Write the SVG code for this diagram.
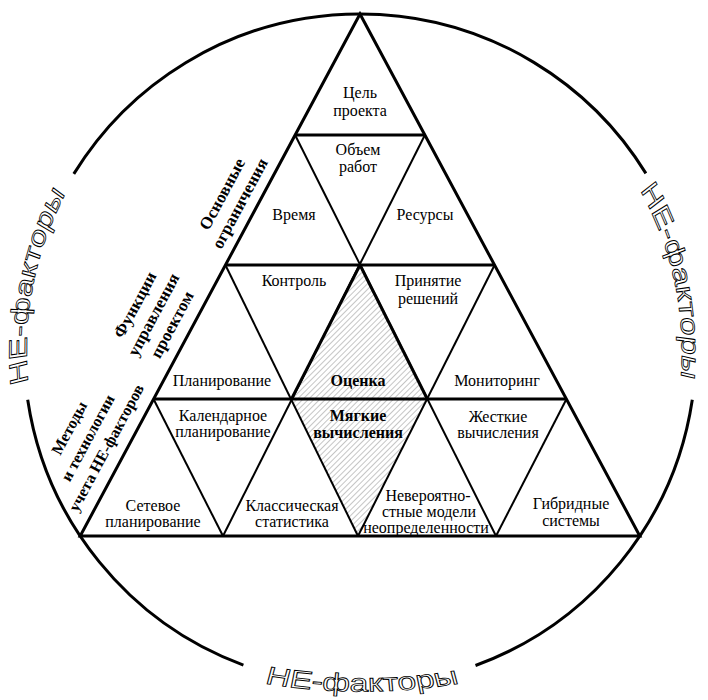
<svg xmlns="http://www.w3.org/2000/svg" width="708" height="700" viewBox="0 0 708 700">
<defs>
<pattern id="hatch" width="4" height="4" patternUnits="userSpaceOnUse" patternTransform="rotate(45)">
<line x1="0" y1="0" x2="0" y2="4" stroke="#8c8c8c" stroke-width="1"/>
</pattern>
<path id="pl" d="M-72.9 0 Q0 -29.7 72.9 0"/>
<path id="pr" d="M-72 0 Q0 -29.4 72 0"/>
<path id="pb" d="M-74 0 Q0 17 74 0"/>
</defs>
<style>
.t{font-family:"Liberation Serif","Times New Roman",serif;font-size:16px;text-anchor:middle;fill:#000}
.b{font-weight:bold}
.s{font-size:17px}
.ne{font-family:"Liberation Sans",Arial,sans-serif;font-size:25px;fill:#fff;stroke:#000;stroke-width:0.8;text-anchor:middle}
.thick{stroke:#000;stroke-width:3;fill:none;stroke-linejoin:miter}
.thin{stroke:#000;stroke-width:2;fill:none}
</style>
<rect width="708" height="700" fill="#fff"/>

<g id="circle">
<path class="thick" d="M73.8 173.9 A336 336 0 0 1 645.9 173.4"/>
<path class="thick" d="M692.3 399.7 A336 336 0 0 1 475.5 665.5"/>
<path class="thick" d="M243.4 665.1 A336 336 0 0 1 27.7 399.7"/>
</g>

<g id="hatched">
<polygon points="360,265 291.5,399 358,536 427.3,399" fill="url(#hatch)"/>
</g>

<g id="connectors">
<polygon class="thick" points="360,14 80.2,536 639.8,536"/>
<line class="thick" x1="295.1" y1="135" x2="424.9" y2="135"/>
<line class="thick" x1="225.4" y1="265" x2="494.6" y2="265"/>
<line class="thick" x1="153.5" y1="399" x2="566.5" y2="399"/>
<line class="thin" x1="424.9" y1="135" x2="223" y2="536"/>
<line class="thin" x1="494.6" y1="265" x2="358" y2="536"/>
<line class="thin" x1="566.5" y1="399" x2="496" y2="536"/>
<line class="thin" x1="295.1" y1="135" x2="496" y2="536"/>
<line class="thin" x1="225.4" y1="265" x2="358" y2="536"/>
<line class="thin" x1="153.5" y1="399" x2="223" y2="536"/>
<line class="thick" x1="360" y1="265" x2="291.5" y2="399"/>
<line class="thick" x1="360" y1="265" x2="427.3" y2="399"/>
</g>

<g id="n-goal"><text class="t" x="360" y="98">Цель</text><text class="t" x="360" y="116">проекта</text></g>
<g id="n-volume"><text class="t" x="358" y="155">Объем</text><text class="t" x="358" y="172">работ</text></g>
<g id="n-time"><text class="t" x="294" y="220">Время</text></g>
<g id="n-resources"><text class="t" x="425" y="220">Ресурсы</text></g>
<g id="n-control"><text class="t" x="294" y="286">Контроль</text></g>
<g id="n-decision"><text class="t" x="428" y="286">Принятие</text><text class="t" x="428" y="304">решений</text></g>
<g id="n-planning"><text class="t" x="222" y="386">Планирование</text></g>
<g id="n-estimate"><text class="t b" x="358" y="386">Оценка</text></g>
<g id="n-monitoring"><text class="t" x="497" y="386">Мониторинг</text></g>
<g id="n-calendar"><text class="t" x="223" y="421">Календарное</text><text class="t" x="223" y="437">планирование</text></g>
<g id="n-soft"><text class="t b" x="358" y="421">Мягкие</text><text class="t b" x="358" y="438">вычисления</text></g>
<g id="n-hard"><text class="t" x="498" y="422">Жесткие</text><text class="t" x="498" y="438">вычисления</text></g>
<g id="n-network"><text class="t" x="153" y="511">Сетевое</text><text class="t" x="153" y="527">планирование</text></g>
<g id="n-classic"><text class="t" x="292" y="511">Классическая</text><text class="t" x="292" y="527">статистика</text></g>
<g id="n-nonprob"><text class="t" x="428" y="501">Невероятно-</text><text class="t" x="429" y="517">стные модели</text><text class="t" x="426" y="533">неопределенности</text></g>
<g id="n-hybrid"><text class="t" x="571" y="509">Гибридные</text><text class="t" x="571" y="526">системы</text></g>

<g id="l-constraints" transform="translate(231.5,199) rotate(-61.8)">
<text class="t b s" x="0" y="-5">Основные</text><text class="t b s" x="0" y="15">ограничения</text>
</g>
<g id="l-functions" transform="translate(154,315) rotate(-61.8)">
<text class="t b s" x="0" y="-16">Функции</text><text class="t b s" x="0" y="5">управления</text><text class="t b s" x="0" y="26">проектом</text>
</g>
<g id="l-methods" transform="translate(88,438) rotate(-61.8)">
<text class="t b" x="0" y="-16">Методы</text><text class="t b" x="0" y="5">и технологии</text><text class="t b" x="0" y="26">учета НЕ-факторов</text>
</g>

<g id="ne-left" transform="translate(47.5,288.3) rotate(-78.84) scale(1.35,1)"><text class="ne"><textPath href="#pl" startOffset="50%">НЕ-факторы</textPath></text></g>
<g id="ne-right" transform="translate(660,284) rotate(77.68) scale(1.35,1)"><text class="ne"><textPath href="#pr" startOffset="50%">НЕ-факторы</textPath></text></g>
<g id="ne-bottom" transform="translate(362,683) scale(1.35,1)"><text class="ne"><textPath href="#pb" startOffset="50%">НЕ-факторы</textPath></text></g>
</svg>
